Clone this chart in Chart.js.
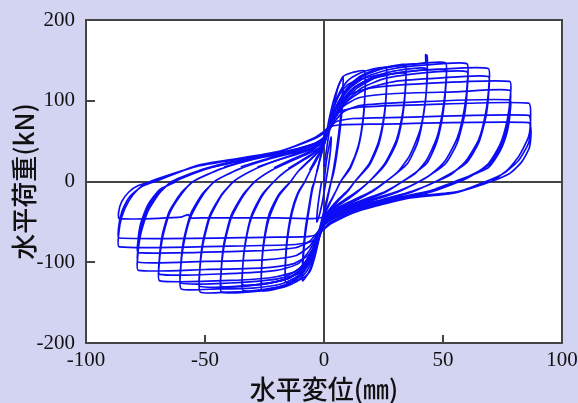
<!DOCTYPE html>
<html><head><meta charset="utf-8">
<script src="https://cdn.jsdelivr.net/npm/chart.js@4.4.1/dist/chart.umd.min.js"></script>
<style>html,body{margin:0;padding:0;background:#d3d3f2;overflow:hidden}</style>
</head><body>
<canvas id="c" width="578" height="403"></canvas>
<script>
// ---- data (displacement mm, load kN) ----
const xTickValues = [-100, -50, 0, 50, 100];
const yTickValues = [-200, -100, 0, 100, 200];
const xTitle = '水平変位(㎜)';
const yTitle = '水平荷重(kN)';

const loop1 = [[0,0],[1,25],[2,42],[3,55],[2.7,38],[1.8,18],[1,4],[0,-14],[-1,-30],[-2,-42],[-3,-50],[-2.7,-34],[-1.8,-14],[-1,0]];
const loop2 = [[0,18],[1,38],[2,58],[4,92],[6,118],[8,129],[7.8,110],[6.8,75],[5.2,38],[4,15],[3,0],[2,-14],[1,-28],[0,-40],[-1,-50],[-2,-62],[-4,-90],[-6,-110],[-9,-123],[-8.8,-100],[-7.8,-65],[-6,-30],[-5,-12],[-4,0],
  [-3,12],[-2,24],[-1,35],[0,45],[1,55],[3,80],[5,100],[8,118],[7.8,98],[6.8,65],[5.2,30],[4,10],[3,0],[2,-12],[1,-24],[0,-36],[-1,-48],[-3,-72],[-6,-98],[-9,-112],[-8.8,-90],[-7.8,-58],[-6,-25],[-5,-8],[-4,0]];
const loop3 = [[-3,12],[-2,24],[-1,36],[0,46],[1,58],[2,75],[4,100],[6,118],[8,130],[12,135],[17,137],[17.3,115],[16.5,80],[14.5,45],[11,18],[7,0],[5,-12],[3,-24],[1,-36],[0,-44],[-1,-55],[-2,-70],[-4,-95],[-6,-112],[-9,-120],[-16,-125],[-16.2,-105],[-15.4,-72],[-13.5,-40],[-11,-16],[-8,0],
  [-6,12],[-4,22],[-2,33],[0,45],[1,55],[3,80],[6,105],[10,120],[17,128],[17.2,108],[16.4,75],[14.4,42],[11,16],[7,0],[5,-12],[3,-23],[1,-34],[0,-42],[-1,-52],[-3,-75],[-6,-100],[-10,-113],[-16,-118],[-16.2,-98],[-15.4,-68],[-13.5,-36],[-11,-14],[-8,0]];
const loop4 = [[-6,14],[-4,25],[-2,35],[0,46],[1,56],[2,70],[4,92],[7,112],[10,125],[15,134],[20,139],[26,141],[26.3,120],[25.4,85],[23,50],[19,22],[13,0],[10,-12],[6,-24],[3,-34],[1,-42],[0,-48],[-1,-56],[-2,-68],[-4,-90],[-7,-110],[-11,-123],[-17,-131],[-26,-135],[-26.3,-114],[-25.4,-80],[-23,-45],[-19,-18],[-14,0],
  [-11,12],[-7,24],[-4,32],[-1,42],[0,48],[1,56],[3,75],[6,98],[10,115],[16,127],[26,132],[26.2,112],[25.3,80],[23,46],[19,20],[13,0],[10,-11],[6,-22],[3,-32],[0,-44],[-1,-52],[-3,-72],[-6,-95],[-10,-112],[-17,-122],[-26,-126],[-26.2,-106],[-25.3,-74],[-23,-40],[-19,-16],[-14,0]];
const loop5 = [[-10,15],[-6,26],[-3,35],[-1,43],[0,49],[1,57],[3,75],[6,98],[10,117],[15,130],[22,139],[34,143],[34.3,122],[33.2,88],[30.5,52],[25.5,22],[19,0],[14,-13],[9,-24],[4,-34],[1,-43],[0,-49],[-1,-57],[-3,-78],[-6,-100],[-10,-117],[-16,-128],[-24,-133],[-34,-135],[-34.3,-114],[-33.2,-80],[-30.5,-45],[-26,-18],[-21,0],
  [-16,13],[-10,24],[-5,33],[-2,41],[0,48],[1,55],[4,78],[8,100],[13,117],[20,128],[34,134],[34.2,114],[33.1,82],[30.5,48],[25.5,20],[19,0],[14,-12],[9,-22],[4,-32],[1,-41],[0,-47],[-2,-62],[-5,-88],[-9,-108],[-15,-120],[-24,-126],[-34,-128],[-34.2,-108],[-33.1,-76],[-30.5,-42],[-26,-16],[-21,0]];
const loop6 = [[-15,16],[-9,27],[-4,36],[-1,44],[0,50],[1,58],[3,74],[6,96],[10,115],[16,130],[24,140],[33,145],[42.5,147],[42.7,157],[43.3,156],[43.4,140],[42.8,105],[40.5,65],[36,32],[31,12],[26,0],[20,-13],[13,-24],[6,-34],[2,-42],[0,-48],[-1,-56],[-3,-76],[-6,-99],[-10,-117],[-16,-129],[-25,-135],[-43,-137],[-43.3,-116],[-42,-80],[-39,-45],[-34,-18],[-29,0],
  [-22,14],[-14,25],[-7,34],[-2,42],[0,48],[1,55],[4,76],[8,98],[13,116],[21,130],[30,137],[43,140],[43.2,120],[42,86],[39.5,50],[35,22],[26,0],[20,-12],[13,-22],[6,-32],[2,-40],[0,-46],[-2,-60],[-5,-85],[-9,-106],[-15,-120],[-25,-127],[-43,-130],[-43.2,-110],[-42,-76],[-39,-42],[-34,-16],[-29,0]];
const loop7 = [[-21,17],[-13,28],[-6,37],[-2,45],[0,51],[1,59],[3,76],[6,97],[10,115],[16,130],[25,140],[37,145],[51,147],[51.3,126],[50,90],[47.5,55],[43,26],[38,9],[33,0],[26,-13],[17,-24],[8,-34],[2,-44],[0,-50],[-1,-58],[-3,-78],[-6,-100],[-10,-117],[-17,-129],[-27,-135],[-40,-137],[-52,-137],[-52.3,-116],[-51,-80],[-48,-45],[-43,-17],[-38,0],
  [-30,14],[-20,26],[-10,35],[-3,43],[0,49],[1,56],[4,76],[8,97],[14,116],[23,130],[35,136],[51,138],[51.2,118],[50,84],[47.5,50],[43,22],[33,0],[26,-12],[17,-22],[8,-32],[2,-42],[0,-48],[-2,-62],[-5,-86],[-9,-107],[-15,-120],[-26,-127],[-52,-130],[-52.2,-110],[-51,-76],[-48,-42],[-43,-16],[-38,0]];
const loop8 = [[-28,18],[-17,29],[-8,38],[-2,46],[0,52],[1,60],[3,77],[6,97],[11,116],[18,130],[28,139],[42,144],[60,146],[60.3,125],[59,90],[56,54],[51,26],[45,9],[40,0],[31,-13],[20,-24],[10,-34],[3,-44],[0,-51],[-1,-59],[-3,-78],[-6,-100],[-11,-117],[-18,-127],[-30,-132],[-45,-133],[-60,-133],[-60.3,-112],[-59,-78],[-56,-44],[-51,-17],[-46,0],
  [-36,15],[-24,27],[-12,36],[-4,43],[0,50],[1,57],[4,77],[9,98],[16,116],[26,128],[40,134],[60,136],[60.2,116],[59,82],[56,48],[51,22],[40,0],[31,-12],[20,-22],[10,-32],[3,-42],[0,-49],[-2,-62],[-5,-86],[-10,-107],[-17,-119],[-30,-124],[-60,-126],[-60.2,-106],[-59,-73],[-56,-40],[-51,-15],[-46,0]];
const loop9 = [[-35,18],[-22,30],[-10,39],[-3,47],[0,53],[1,61],[3,78],[7,98],[12,115],[20,127],[32,135],[48,139],[69,140],[69.3,120],[68,86],[65,52],[59.5,25],[53,8],[47,0],[37,-13],[25,-24],[12,-35],[3,-46],[0,-53],[-1,-60],[-3,-78],[-7,-98],[-12,-111],[-20,-118],[-35,-122],[-69,-123],[-69.3,-104],[-68,-72],[-65,-40],[-60,-16],[-55,0],
  [-43,16],[-29,28],[-14,37],[-4,45],[0,52],[1,59],[5,80],[10,100],[18,115],[30,124],[48,128],[69,130],[69.2,111],[68,80],[65,48],[59.5,22],[47,0],[37,-12],[25,-22],[12,-33],[3,-44],[0,-51],[-2,-62],[-6,-85],[-11,-102],[-20,-110],[-40,-114],[-69,-115],[-69.2,-97],[-68,-67],[-65,-37],[-60,-14],[-55,0]];
const loop10 = [[-42,18],[-27,30],[-13,39],[-4,47],[0,54],[1,62],[3,78],[6,95],[11,108],[20,116],[40,121],[78,124],[78.3,106],[77,76],[74,46],[69,22],[62,7],[57,0],[45,-13],[30,-23],[15,-34],[4,-46],[0,-54],[-1,-61],[-3,-76],[-7,-92],[-13,-102],[-25,-107],[-50,-109],[-78,-110],[-78.3,-94],[-77,-65],[-74,-37],[-69,-14],[-64,0],
  [-50,16],[-33,28],[-16,37],[-5,45],[0,52],[1,59],[4,76],[8,93],[15,104],[30,109],[55,111],[78,113],[78.2,96],[77,70],[74,42],[69,20],[56,0],[45,-12],[30,-22],[15,-33],[4,-45],[0,-53],[-2,-62],[-6,-80],[-12,-92],[-25,-97],[-50,-99],[-78,-100],[-78.2,-85],[-77,-58],[-74,-33],[-69,-12],[-63,0],
  [-50,15],[-33,27],[-16,36],[-5,44],[0,51],[1,57],[4,72],[8,86],[15,94],[35,98],[78,101],[78.2,86],[77,62],[74,38],[69,17],[55,0],[44,-12],[29,-21],[14,-32],[4,-44],[0,-52],[-2,-60],[-6,-74],[-12,-82],[-30,-86],[-78,-88],[-78.2,-75],[-77,-52],[-74,-29],[-69,-10],[-62,0]];
const loop11 = [[-48,17],[-30,29],[-15,38],[-4,47],[0,55],[1,63],[3,76],[7,87],[15,92],[40,95],[86,97],[86.8,80],[86,56],[82,32],[77,14],[70,0],[55,-14],[35,-21],[14,-36],[3,-50],[0,-58],[-2,-66],[-5,-74],[-12,-78],[-40,-80],[-86,-81],[-86.3,-66],[-85,-44],[-82,-24],[-78,-9],[-73,0],
  [-53,19],[-35,28],[-18,38],[-4,53],[0,60],[2,66],[5,74],[12,78],[40,80],[86,82],[86.8,68],[86,48],[82,27],[76,11],[68,0],[55,-14],[35,-21],[14,-37],[3,-52],[0,-59],[-2,-64],[-6,-68],[-20,-69],[-86,-70],[-86.3,-57],[-85,-38],[-82,-20],[-77,-7],[-71,0],
  [-53,20],[-35,29],[-18,38],[-4,54],[0,62],[2,67],[6,70],[20,71],[86,73],[87,62],[86.3,42],[83,24],[78,10],[70,0],[55,-13],[34,-19],[13,-30],[3,-40],[0,-44],[-5,-46],[-20,-45],[-50,-45],[-56,-45],[-57,-41],[-60,-44],[-86,-46],[-86.3,-38],[-85,-25],[-82,-13],[-78,-5],[-72,0]];

const loops = [loop1, loop2, loop3, loop4, loop5, loop6, loop7, loop8, loop9, loop10, loop11];

// ---- drawing ----
const BG = '#d3d3f2';
const FRAME = '#444444';
const LINE = 'rgb(12,12,245)';

const framePlugin = {
  id: 'frame',
  beforeDraw(chart) {
    const {ctx, width, height, chartArea: a} = chart;
    ctx.save();
    ctx.fillStyle = BG; ctx.fillRect(0, 0, width, height);
    ctx.fillStyle = '#ffffff'; ctx.fillRect(a.left, a.top, a.right - a.left, a.bottom - a.top);
    ctx.restore();
  },
  afterDraw(chart) {
    const {ctx, chartArea: a, scales: {x, y}} = chart;
    ctx.save();
    ctx.strokeStyle = FRAME; ctx.lineWidth = 2;
    ctx.strokeRect(a.left, a.top, a.right - a.left, a.bottom - a.top);
    ctx.beginPath();
    xTickValues.filter(v => v > x.min && v < x.max && v !== 0).forEach(v => {
      const px = Math.round(x.getPixelForValue(v));
      ctx.moveTo(px, a.bottom); ctx.lineTo(px, a.bottom - 8);
    });
    yTickValues.filter(v => v > y.min && v < y.max && v !== 0).forEach(v => {
      const py = Math.round(y.getPixelForValue(v));
      ctx.moveTo(a.left, py); ctx.lineTo(a.left + 9, py);
    });
    ctx.stroke();
    ctx.restore();
  }
};

const tickFont = {family: "'Liberation Serif', 'Times New Roman', serif", size: 21};
const titleFont = {family: "'Noto Sans CJK JP', sans-serif", size: 26, weight: 500, lineHeight: 1};
const zeroGrid = {
  display: true, drawTicks: false, lineWidth: 2,
  color: c => (c.tick && c.tick.value === 0) ? FRAME : 'rgba(0,0,0,0)'
};

new Chart(document.getElementById('c'), {
  type: 'scatter',
  data: {
    datasets: loops.map(l => ({
      data: l.map(([x, y]) => ({x, y})),
      showLine: true, pointRadius: 0, borderColor: LINE, borderWidth: 1.7,
      tension: 0.2, fill: false
    }))
  },
  options: {
    responsive: false, animation: false, devicePixelRatio: 1,
    layout: {padding: {left: 0, right: 16, top: 20, bottom: 0}},
    plugins: {legend: {display: false}, tooltip: {enabled: false}},
    scales: {
      x: {
        type: 'linear', min: -100, max: 100,
        afterBuildTicks: s => { s.ticks = xTickValues.map(v => ({value: v})); },
        afterFit: s => { s.height = 60; s.paddingLeft = 0; s.paddingRight = 0; },
        ticks: {font: tickFont, color: '#111', padding: 5, maxRotation: 0},
        grid: zeroGrid, border: {display: false},
        title: {display: true, text: xTitle, font: titleFont, color: '#111', padding: {top: 0, bottom: 1}}
      },
      y: {
        type: 'linear', min: -200, max: 200,
        afterBuildTicks: s => { s.ticks = yTickValues.map(v => ({value: v})); },
        afterFit: s => { s.width = 86; s.paddingTop = 0; s.paddingBottom = 0; },
        ticks: {font: tickFont, color: '#111', padding: 11},
        grid: zeroGrid, border: {display: false},
        title: {display: true, text: yTitle, font: titleFont, color: '#111', padding: {top: 11, bottom: 0}}
      }
    }
  },
  plugins: [framePlugin]
});
</script>
</body></html>
